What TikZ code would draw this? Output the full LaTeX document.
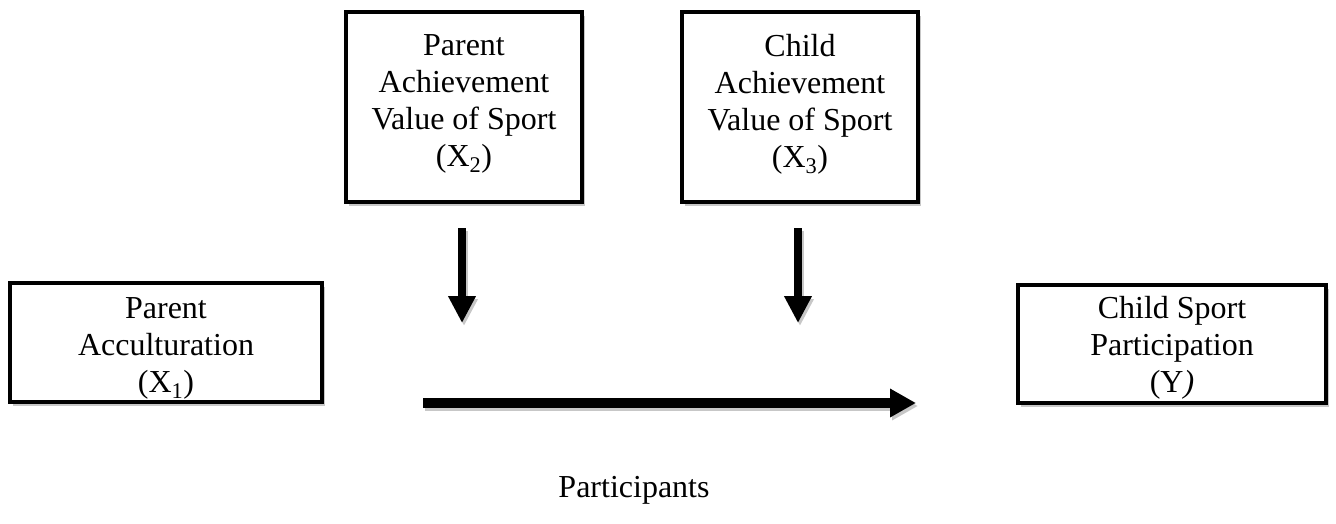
\documentclass[tikz,border=0pt]{standalone}
\usepackage{fontspec}
\setmainfont{Liberation Serif}
\usetikzlibrary{arrows.meta,shadows}
\begin{document}
\begin{tikzpicture}[x=1pt,y=-1pt,
  varbox/.style={draw=black,line width=4pt,fill=white,inner sep=0pt,
    drop shadow={shadow xshift=3pt,shadow yshift=-4pt,fill=black!22,opacity=1}},
  boxtext/.style={align=center,inner sep=0pt,font=\fontsize{32}{37}\selectfont},
  modarrow/.style={line width=8pt,-{Triangle[width=26pt,length=27pt]}},
  mainarrow/.style={line width=10pt,-{Triangle[width=27pt,length=26pt]}},
  shade/.style={draw=black!22}]
\useasboundingbox (0,0) rectangle (1336,523);

% variable boxes, each with its centred label
\node[varbox,minimum width=312pt,minimum height=119pt,
  label={[boxtext,yshift=-6pt]center:{Parent\\Acculturation\\(X\textsubscript{1})}}]
  (x1) at (166,342.5) {};
\node[varbox,minimum width=236pt,minimum height=190pt,
  label={[boxtext,yshift=3pt]center:{Parent\\Achievement\\Value of Sport\\(X\textsubscript{2})}}]
  (x2) at (464,107) {};
\node[varbox,minimum width=236pt,minimum height=190pt,
  label={[boxtext,yshift=3pt]center:{Child\\Achievement\\Value of Sport\\(X\textsubscript{3})}}]
  (x3) at (800,107) {};
\node[varbox,minimum width=308pt,minimum height=118pt,
  label={[boxtext,yshift=-4pt]center:{Child Sport\\Participation\\(Y\textit{)}}}]
  (y) at (1172,344) {};

% arrow end points
\coordinate (m2s) at (462,228);
\coordinate (m2e) at (462,323);
\coordinate (m3s) at (798,228);
\coordinate (m3e) at (798,323);
\coordinate (ps) at (423,403);
\coordinate (pe) at (916,403);

% soft shadows under the arrows
\draw[modarrow,shade] ([shift={(2,3)}]m2s) -- ([shift={(2,3)}]m2e);
\draw[modarrow,shade] ([shift={(2,3)}]m3s) -- ([shift={(2,3)}]m3e);
\draw[mainarrow,shade] ([shift={(2,3)}]ps) -- ([shift={(2,3)}]pe);

% moderator and main path arrows
\draw[modarrow] (m2s) -- (m2e);
\draw[modarrow] (m3s) -- (m3e);
\draw[mainarrow] (ps) -- (pe);

\node[font=\fontsize{32}{37}\selectfont] (lab) at (634,490) {Participants};
\end{tikzpicture}
\end{document}
